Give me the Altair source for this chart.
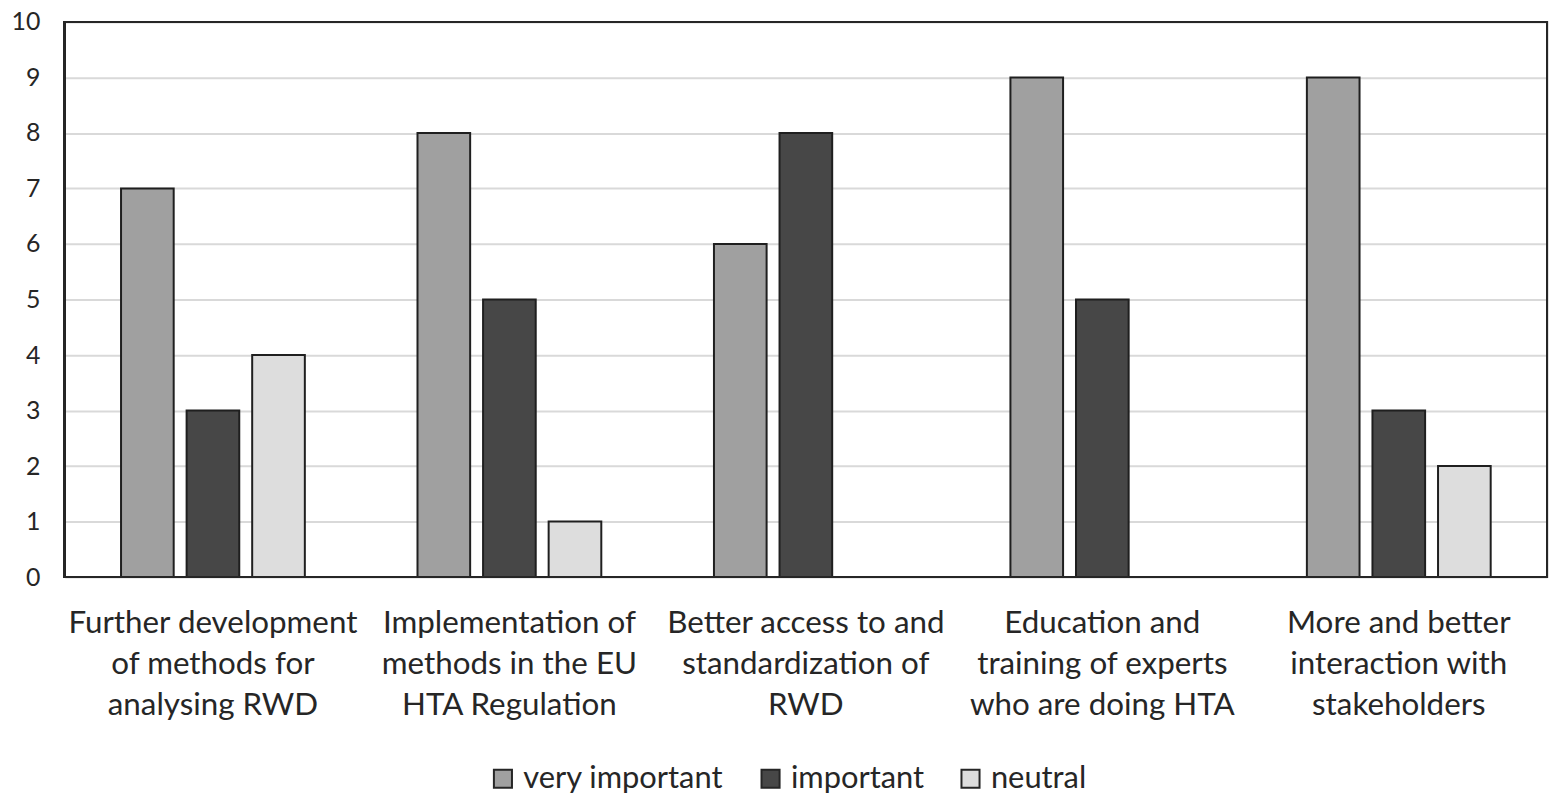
import altair as alt
import pandas as pd

categories = [
    "Further development|of methods for|analysing RWD",
    "Implementation of|methods in the EU|HTA Regulation",
    "Better access to and|standardization of|RWD",
    "Education and|training of experts|who are doing HTA",
    "More and better|interaction with|stakeholders",
]
series = ["very important", "important", "neutral"]
very_important = [7, 8, 6, 9, 9]
important = [3, 5, 8, 5, 3]
neutral = [4, 1, 0, 0, 2]
colors = ["#a0a0a0", "#474747", "#dddddd"]

rows = []
for i, c in enumerate(categories):
    for s, vals in zip(series, [very_important, important, neutral]):
        rows.append({"category": c, "series": s, "value": vals[i]})
df = pd.DataFrame(rows)

FONT = "Lato"
TXT = "#262626"
W, H = 1490, 558

bars = alt.Chart(df).transform_filter("datum.value > 0").mark_bar(
    stroke="#1f1f1f", strokeWidth=2
).encode(
    x=alt.X("category:N", sort=categories,
            scale=alt.Scale(paddingInner=0.38, paddingOuter=0.19),
            axis=alt.Axis(title=None, labelAngle=0, ticks=False, domain=False,
                          labelExpr="split(datum.label, '|')",
                          labelFont=FONT, labelFontSize=31.5, labelColor=TXT,
                          labelLineHeight=41, labelPadding=47, labelLimit=0,
                          labelBaseline="middle")),
    xOffset=alt.XOffset("series:N", sort=series,
                        scale=alt.Scale(paddingInner=0.197, paddingOuter=0)),
    y=alt.Y("value:Q", scale=alt.Scale(domain=[0, 10]),
            axis=alt.Axis(title=None, values=list(range(11)), ticks=False, domain=False,
                          gridColor="#d9d9d9", gridWidth=2,
                          labelFont=FONT, labelFontSize=25, labelColor=TXT,
                          labelPadding=25)),
    color=alt.Color("series:N", sort=series,
                    scale=alt.Scale(domain=series, range=colors),
                    legend=alt.Legend(title=None, orient="none", direction="horizontal",
                                      legendX=425, legendY=745,
                                      symbolType="square", symbolSize=330,
                                      symbolStrokeColor="#262626", symbolStrokeWidth=2,
                                      labelFont=FONT, labelFontSize=31, labelColor=TXT,
                                      labelLimit=0, columnPadding=31, labelOffset=5)),
)

frame = alt.Chart(df).mark_rect(fill=None, stroke="#262626", strokeWidth=2).encode(
    x=alt.value(0), x2=alt.value(W), y=alt.value(0), y2=alt.value(H)
)

chart = alt.layer(bars, frame).properties(
    width=W, height=H,
    autosize=alt.AutoSizeParams(type="none"),
    padding={"left": 57, "top": 12, "right": 3, "bottom": 220},
).configure_view(
    stroke=None
).configure(background="white")

chart.save("out.html", embed_options={"renderer": "svg", "actions": False})
